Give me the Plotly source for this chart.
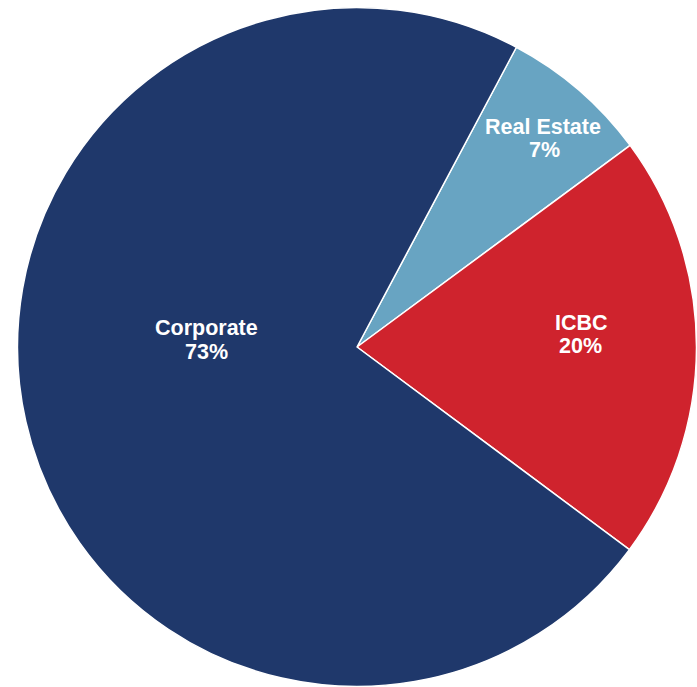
import plotly.graph_objects as go

labels = ["Real Estate", "ICBC", "Corporate"]
values = [7.1, 20.3, 72.6]
colors = ["#68a4c2", "#cf232d", "#1f386b"]

W, H = 697, 687
# label anchor centres (page px) for name line and percent line
label_pos = {
    "Real Estate": ((543, 127), (544, 150)),
    "ICBC": ((581, 323), (580, 346)),
    "Corporate": ((206, 328), (206, 352)),
}

fig = go.Figure(go.Pie(
    labels=labels,
    values=values,
    sort=False,
    direction="clockwise",
    rotation=28,
    marker=dict(colors=colors, line=dict(color="white", width=1.5)),
    textinfo="none",
    hoverinfo="label+percent",
    domain=dict(x=[17.5 / W, 696.5 / W], y=[0.5 / H, 679.5 / H]),
))

total = sum(values)
font = dict(family="Liberation Sans, Arial", size=21.5, color="white")
for lab, val in zip(labels, values):
    (x1, y1), (x2, y2) = label_pos[lab]
    pct = f"{round(100 * val / total)}%"
    for txt, (x, y) in ((lab, (x1, y1)), (pct, (x2, y2))):
        fig.add_annotation(
            text=f"<b>{txt}</b>", x=x / W, y=1 - y / H,
            xref="paper", yref="paper", xanchor="center", yanchor="middle",
            showarrow=False, font=font,
        )

fig.update_layout(
    width=W, height=H,
    margin=dict(l=0, r=0, t=0, b=0),
    showlegend=False,
    paper_bgcolor="white",
    plot_bgcolor="white",
)
fig.write_html(
    "out.html",
    config={"displayModeBar": False},
    post_script="document.body.style.margin='0';"
                "document.body.style.overflow='hidden';"
                "document.documentElement.style.overflow='hidden';",
)
